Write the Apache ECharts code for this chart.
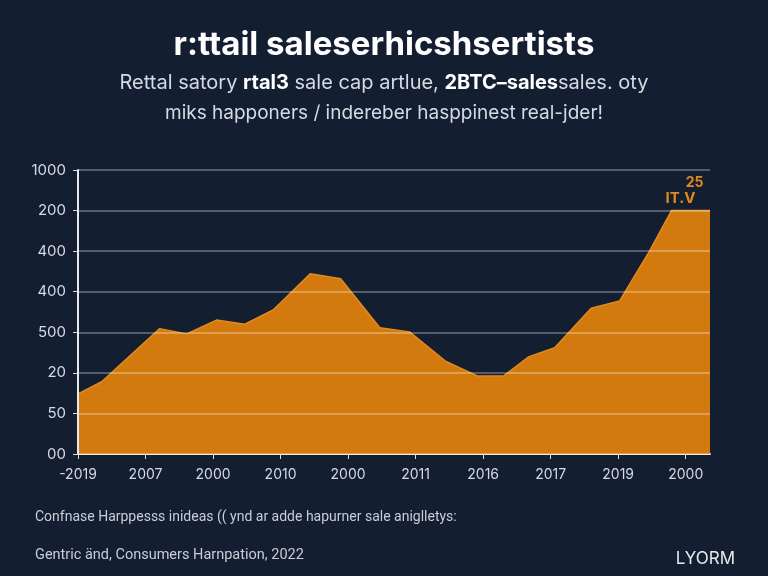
<!DOCTYPE html>
<html>
<head>
<meta charset="utf-8">
<style>
  html, body { margin: 0; padding: 0; background: #131e31; }
  #chart { width: 768px; height: 576px; }
</style>
<script src="https://cdn.jsdelivr.net/npm/echarts@6/dist/echarts.min.js"></script>
</head>
<body>
<div id="chart"></div>
<script>
// x tick labels (one per integer position on the x axis)
const xTickLabels = ["-2019", "2007", "2000", "2010", "2000", "2011", "2016", "2017", "2019", "2000"];
// y tick labels, bottom to top
const yTickLabels = ["00", "50", "20", "500", "400", "400", "200", "1000"];

// series points (x position, value)
const xPos = [0, 0.35, 1.21, 1.61, 2.05, 2.47, 2.89, 3.44, 3.89, 4.47, 4.91, 5.45, 5.92, 6.31, 6.68, 7.06, 7.6, 8.02, 8.46, 8.79, 9.36];
const values = [1.48, 1.78, 3.09, 2.96, 3.3, 3.2, 3.55, 4.44, 4.32, 3.11, 3.01, 2.28, 1.92, 1.93, 2.4, 2.62, 3.59, 3.77, 4.99, 6.0, 6.0];
const peakIndex = 19;

const chart = echarts.init(document.getElementById("chart"));

const seriesData = xPos.map((x, i) => {
  const item = { value: [x, values[i]] };
  if (i === peakIndex) {
    item.label = {
      show: true,
      position: "top",
      offset: [13, 0],
      formatter: "{a|25}\n{b|IT.V}",
      rich: {
        a: { color: "#e08a1c", fontSize: 14, fontWeight: "bold", align: "right", lineHeight: 15 },
        b: { color: "#e08a1c", fontSize: 15, fontWeight: "bold", lineHeight: 15, padding: [0, 8, 0, 0] },
      },
    };
  }
  return item;
});

const textColor = "#d6dae2";

const option = {
  backgroundColor: "#131e31",
  textStyle: { fontFamily: "Inter, Roboto, sans-serif" },
  title: [
    {
      text: "r:ttail saleserhicshsertists",
      left: "center",
      top: 24,
      textStyle: { color: "#ffffff", fontSize: 33, fontWeight: "bold", fontFamily: "Inter, sans-serif" },
    },
    {
      text: "Rettal satory {b|rtal3} sale cap artlue, {b|2BTC–sales}sales. oty",
      left: "center",
      top: 68,
      textStyle: {
        color: textColor, fontSize: 20, fontWeight: "normal", fontFamily: "Inter, sans-serif",
        rich: { b: { color: "#ffffff", fontSize: 20, fontWeight: "bold", fontFamily: "Inter, sans-serif" } },
      },
    },
    {
      text: "miks happoners / indereber hasppinest real-jder!",
      left: "center",
      top: 99,
      textStyle: { color: textColor, fontSize: 19, fontWeight: "normal", fontFamily: "Inter, sans-serif" },
    },
    {
      text: "Confnase Harppesss inideas (( ynd ar adde hapurner sale aniglletys:",
      left: 30,
      top: 505,
      textStyle: { color: "#c9cdd5", fontSize: 14, fontWeight: "normal", fontFamily: "Roboto, sans-serif" },
    },
    {
      text: "Gentric änd, Consumers Harnpation, 2022",
      left: 30,
      top: 543,
      textStyle: { color: "#c9cdd5", fontSize: 14.5, fontWeight: "normal", fontFamily: "Roboto, sans-serif" },
    },
    {
      text: "LYORM",
      right: 28,
      top: 545,
      textStyle: { color: "#e6e9ee", fontSize: 17, fontWeight: "normal", fontFamily: "Inter, sans-serif" },
    },
  ],
  grid: { left: 78, right: 58, top: 170, bottom: 122 },
  xAxis: {
    type: "value",
    min: 0,
    max: 9.36,
    interval: 1,
    axisLine: { lineStyle: { color: "#e8e4da", width: 2 } },
    axisTick: { show: true, length: 5, lineStyle: { color: "#d8dce4" } },
    axisLabel: {
      color: textColor,
      fontSize: 14,
      margin: 14,
      showMaxLabel: false,
      formatter: (v) => (Number.isInteger(v) && xTickLabels[v] !== undefined ? xTickLabels[v] : ""),
    },
    splitLine: { show: false },
  },
  yAxis: {
    type: "value",
    min: 0,
    max: 7,
    interval: 1,
    z: 5,
    axisLine: { show: true, lineStyle: { color: "#e8e9ec", width: 2 } },
    axisTick: { show: true, length: 5, lineStyle: { color: "#d8dce4" } },
    axisLabel: {
      color: textColor,
      fontSize: 15,
      margin: 12,
      formatter: (v) => yTickLabels[v] ?? "",
    },
    splitLine: { lineStyle: { color: "rgba(255,255,255,0.38)", width: 1.5 } },
  },
  series: [
    {
      type: "line",
      data: seriesData,
      symbol: "circle",
      symbolSize: 0,
      lineStyle: { color: "#e08a20", width: 1.5 },
      areaStyle: { color: "#d27a0e", opacity: 1 },
      z: 2,
    },
  ],
};

chart.setOption(option);
</script>
</body>
</html>
